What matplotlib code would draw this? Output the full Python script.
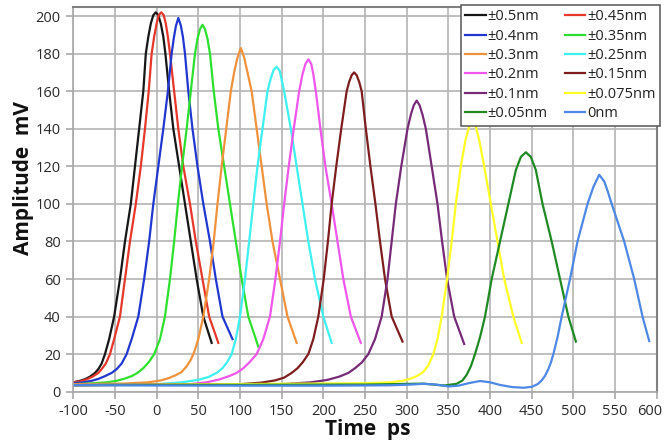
import matplotlib
matplotlib.use('Agg')
import matplotlib.pyplot as plt
import matplotlib.transforms as mtransforms

plt.rcParams['font.family'] = ['Open Sans', 'DejaVu Sans']
plt.rcParams['axes.unicode_minus'] = False

# ========== Datos de los pulsos (tiempo en ps, amplitud en mV) ==========

labels = ['±0.5nm', '±0.45nm', '±0.4nm', '±0.35nm', '±0.3nm', '±0.25nm',
          '±0.2nm', '±0.15nm', '±0.1nm', '±0.075nm', '±0.05nm', '0nm']
colors = ['#161616', '#e5372a', '#2038d0', '#2ee02e', '#f0913c', '#3ef0f0',
          '#f055ec', '#7e1d1d', '#772a78', '#ffff26', '#1f8a24', '#4d88e6']

x_ticks = list(range(-100, 601, 50))
y_ticks = list(range(0, 201, 20))

t_05 = [-100, -92, -85, -79, -74, -70, -66, -62, -57, -51, -44, -38, -31, -26, -21, -16, -13, -10, -7, -4, -1, 2, 5, 8, 10.5, 15, 20, 27, 34, 41, 48, 56, 66]
v_05 = [5, 5.8, 6.8, 8.3, 10, 12, 15, 20, 28, 40, 60, 80, 100, 120, 140, 160, 180, 189, 196, 200.5, 202, 200.5, 196, 189, 180, 160, 140, 120, 100, 80, 60, 40, 26]

t_045 = [-100, -92, -84, -77, -70, -66, -61, -56, -51, -44, -38, -32, -25, -19, -14, -9.5, -6, -3, 0, 2.5, 5.5, 8.5, 11, 13.5, 16, 21, 26, 32, 40, 47, 55, 63, 74]
v_045 = [5, 5.5, 6.5, 8, 10, 12, 15, 20, 28, 40, 60, 80, 100, 120, 140, 160, 180, 189, 196, 200.5, 202, 200.5, 196, 189, 180, 160, 140, 120, 100, 80, 60, 40, 26]

t_04 = [-100, -88, -78, -70, -62, -54, -48, -42, -36, -30, -22, -15, -9, -4, 2, 8, 13.5, 18, 20.5, 23, 26, 29, 31.5, 34, 38, 43, 49, 56, 64, 71, 79, 91]
v_04 = [4.5, 5, 5.8, 6.8, 8.3, 10, 12, 15, 20, 28, 40, 60, 80, 100, 120, 140, 160, 180, 188, 194.5, 199, 195, 189, 180, 160, 140, 120, 100, 80, 60, 40, 28]

t_035 = [-100, -80, -60, -48, -38, -30, -23, -16, -9, -3, 4, 10, 16, 21, 25.5, 30.5, 36, 41, 46, 49, 52, 55, 58, 61, 64, 68.5, 74, 81, 88, 95, 102, 110, 122]
v_035 = [4, 4.4, 5, 5.8, 7, 8.3, 10, 12.5, 16, 20, 28, 40, 60, 80, 100, 120, 140, 160, 180, 188, 193, 195.4, 193, 188, 180, 160, 140, 120, 100, 80, 60, 40, 24]

t_03 = [-100, -40, -10, 5, 15, 23, 30, 36, 41, 45, 50, 56, 63, 68.5, 73, 78, 83.5, 89, 93, 97, 101, 105, 109, 114, 120, 126, 132, 139, 148, 157, 168]
v_03 = [4, 4.3, 5, 6, 7.3, 8.8, 10.5, 13.5, 17, 21, 28, 40, 60, 80, 100, 120, 140, 160, 170, 178, 183, 178, 170, 160, 140, 120, 100, 80, 60, 40, 26]

t_025 = [-100, 0, 30, 50, 62, 72, 79, 85, 90, 95, 100, 106, 111, 116, 121, 127, 133, 137, 140.5, 144, 147.5, 150, 153, 161, 168, 175, 182, 190, 200, 210]
v_025 = [3.5, 4, 5, 6.3, 7.8, 10, 12.5, 16, 20, 28, 40, 60, 80, 100, 120, 140, 160, 167, 171.5, 173, 171, 166, 160, 140, 120, 100, 80, 60, 40, 26]

t_02 = [-100, 40, 60, 75, 87, 96, 104, 111, 120, 128, 136, 142.5, 148, 153, 158.5, 164.5, 171, 175, 178.5, 182, 185.5, 188, 191, 196.5, 202.5, 210, 217, 224, 233, 245]
v_02 = [3.5, 4, 5, 6.5, 8.3, 10, 12.5, 15.5, 20, 28, 40, 60, 80, 100, 120, 140, 160, 169, 174.5, 177, 174.5, 169, 160, 140, 120, 100, 80, 60, 40, 26]

t_015 = [-100, 100, 125, 142, 153, 162, 169, 175, 182, 188, 194, 200.5, 205.5, 210, 215.5, 221.5, 228, 231, 234, 237, 240, 243, 246, 251, 256.5, 262.5, 268, 274, 282, 295]
v_015 = [3.5, 4, 4.8, 6, 7.5, 10, 12.5, 15.5, 20, 28, 40, 60, 80, 100, 120, 140, 160, 165, 168.5, 170, 168.5, 165, 160, 140, 120, 100, 80, 60, 40, 26.7]

t_01 = [-100, 150, 185, 205, 219, 230, 238, 246, 254, 262, 270, 277, 282, 287, 293.5, 301, 305, 308.5, 312, 315.5, 319, 323, 330, 337, 342.5, 348.5, 357, 369]
v_01 = [3.5, 4, 5, 6.3, 8, 10, 12.5, 15.5, 20, 28, 40, 60, 80, 100, 120, 140, 147.5, 152.5, 155, 152.5, 147.5, 140, 120, 100, 80, 60, 40, 25.4]

t_0075 = [-100, 250, 280, 295, 305, 313, 320, 326, 332, 337, 342, 348.5, 354, 359, 365, 370.5, 375, 379, 383, 387, 393, 401, 409, 417, 428, 438]
v_0075 = [3.5, 4.5, 5, 5.8, 7, 8.5, 10.5, 14, 20, 28, 40, 60, 80, 100, 120, 134, 141, 143.5, 141, 134, 120, 100, 80, 60, 40, 26]

t_005 = [-100, 250, 320, 345, 360, 367, 372, 377, 382, 388, 394, 402, 412, 422, 431, 437, 443, 449, 455, 463, 474, 484, 494, 503]
v_005 = [3.5, 3.8, 4.3, 3.3, 4.2, 6, 9, 13.5, 20, 29, 40, 60, 80, 100, 118, 125, 127.5, 125, 118, 100, 80, 60, 40, 26.7]

t_0 = [-100, 0, 100, 200, 280, 305, 320, 335, 350, 362, 375, 388, 400, 412, 426, 440, 450, 457, 462, 466, 470, 473, 476, 481, 486, 496, 505, 517, 524, 531, 537, 541, 546, 561, 573, 583, 591]
v_0 = [3.5, 3.3, 3.2, 3.2, 3.4, 3.8, 4.2, 3.8, 2.8, 3.2, 4.6, 5.7, 5, 3.6, 2.5, 2.1, 2.6, 4, 6, 8.5, 12, 15.5, 20, 29, 40, 60, 80, 100, 109, 115.5, 112, 107, 100, 80, 60, 40, 27]

series_t = [t_05, t_045, t_04, t_035, t_03, t_025, t_02, t_015, t_01, t_0075, t_005, t_0]
series_v = [v_05, v_045, v_04, v_035, v_03, v_025, v_02, v_015, v_01, v_0075, v_005, v_0]

# ========== Grafica ==========

W, H = 665, 443
fig = plt.figure(figsize=(W / 100, H / 100), dpi=100)
ax = fig.add_axes([73.3 / W, 1 - 391.7 / H, (656.7 - 73.3) / W, (391.7 - 6.7) / H])

lines = []
for t, v, lab, col in zip(series_t, series_v, labels, colors):
    ln, = ax.plot(t, v, color=col, lw=1.6, label=lab)
    lines.append(ln)

ax.set_xlim(-100, 600)
ax.set_ylim(0, 205)
ax.set_xticks(x_ticks)
ax.set_yticks(y_ticks)
ax.grid(True, color='#b4b4b4', lw=1.2)
ax.set_axisbelow(True)

for side in ['left', 'bottom']:
    ax.spines[side].set_color('#a8a8a8')
    ax.spines[side].set_linewidth(1.2)
for side in ['top', 'right']:
    ax.spines[side].set_color('#808080')
    ax.spines[side].set_linewidth(1.5)

ax.tick_params(direction='out', length=5, width=1.2, color='#a8a8a8',
               labelsize=10.5, labelcolor='#2a2a2a', pad=4)

# la etiqueta 600 queda pegada al borde: se corre un poco a la izquierda
last = ax.xaxis.get_major_ticks()[-1].label1
last.set_transform(last.get_transform() + mtransforms.ScaledTranslation(-7 / 100, 0, fig.dpi_scale_trans))

fig.text(24 / W, 1 - 178 / H, 'Amplitude  mV', rotation=90, ha='center', va='center',
         fontsize=15, fontweight='bold', color='#111111')
fig.text(368 / W, 1 - 429 / H, 'Time  ps', ha='center', va='center',
         fontsize=15, fontweight='bold', color='#111111')

# leyenda en orden por filas
order = lines[0::2] + lines[1::2]
leg = fig.legend(order, [l.get_label() for l in order], ncol=2,
                 loc='upper right', bbox_to_anchor=(660 / W, 1 - 5 / H),
                 borderaxespad=0, fontsize=10.5, handlelength=1.4,
                 handletextpad=0.12, columnspacing=1.2, labelspacing=0.3,
                 borderpad=0.3, fancybox=False, framealpha=1,
                 edgecolor='#555555')
leg.get_frame().set_linewidth(1.1)
for txt in leg.get_texts():
    txt.set_color('#222222')

plt.savefig('out.png', dpi=100)
